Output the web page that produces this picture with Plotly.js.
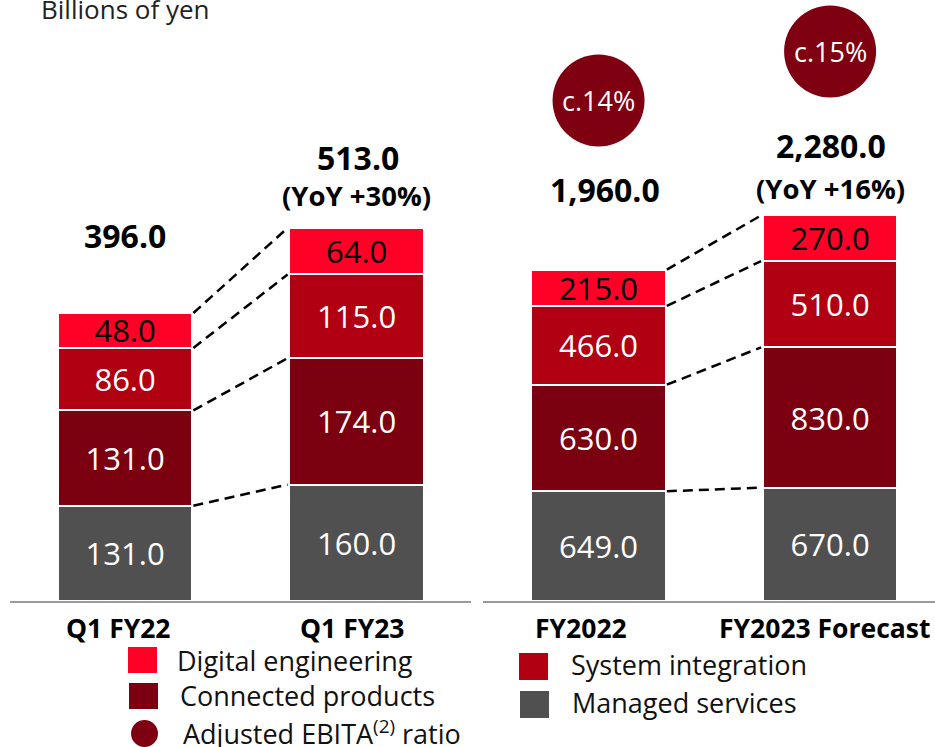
<!DOCTYPE html>
<html>
<head>
<meta charset="utf-8">
<script src="https://cdn.plot.ly/plotly-3.0.1.min.js"></script>
<style>html,body{margin:0;padding:0;background:#fff;}#chart{width:935px;height:747px;}</style>
</head>
<body>
<div id="chart"></div>
<script>
// ---- Data ----
const categoriesQ = ["Q1 FY22", "Q1 FY23"];
const categoriesY = ["FY2022", "FY2023 Forecast"];
const seriesNames = ["Managed services", "Connected products", "System integration", "Digital engineering"];
const managedQ = [131.0, 160.0];
const connectedQ = [131.0, 174.0];
const systemQ = [86.0, 115.0];
const digitalQ = [48.0, 64.0];
const managedY = [649.0, 670.0];
const connectedY = [630.0, 830.0];
const systemY = [466.0, 510.0];
const digitalY = [215.0, 270.0];
const totalsQ = [396.0, 513.0];
const totalsY = [1960.0, 2280.0];
const yoyQ = ["", "(YoY +30%)"];
const yoyY = ["", "(YoY +16%)"];
const ebitaRatio = ["c.14%", "c.15%"];
const unitLabel = "Billions of yen";
const legendEbita = "Adjusted EBITA<sup>(2)</sup> ratio";

// ---- Styles ----
const colors = ["#505050", "#7B0010", "#B00012", "#FF0027"];
const textColors = ["#ffffff", "#ffffff", "#ffffff", "#000000"];
const circleColor = "#7F0010";
const FONT = "Open Sans, Noto Sans, DejaVu Sans, sans-serif";
const W = 935, H = 747, PLOT_BOTTOM = 601;
const BAR_W = 0.58;

const fmt = v => v.toLocaleString("en-US", {minimumFractionDigits: 1, maximumFractionDigits: 1});

const seriesQ = [managedQ, connectedQ, systemQ, digitalQ];
const seriesY = [managedY, connectedY, systemY, digitalY];

const traces = [];
function addBars(cats, series, xa, ya) {
  series.forEach((vals, k) => {
    traces.push({
      type: "bar", x: cats, y: vals, name: seriesNames[k],
      xaxis: xa, yaxis: ya, width: BAR_W,
      marker: {color: colors[k], line: {color: "#ffffff", width: 2}},
      text: vals.map(fmt), textposition: "inside", insidetextanchor: "middle",
      constraintext: "none",
      textfont: {family: FONT, size: 31, color: textColors[k]},
      showlegend: false, hoverinfo: "x+y+name"
    });
  });
}
addBars(categoriesQ, seriesQ, "x", "y");
addBars(categoriesY, seriesY, "x2", "y2");

function cumul(series, i) {
  const out = []; let s = 0;
  series.forEach(v => { s += v[i]; out.push(s); });
  return out;
}

const shapes = [];
function addConnectors(series, xref, yref) {
  const a = cumul(series, 0), b = cumul(series, 1);
  a.forEach((v, k) => {
    shapes.push({type: "line", xref: xref, yref: yref,
      x0: BAR_W / 2 + 0.005, y0: v, x1: 1 - BAR_W / 2 - 0.008, y1: b[k],
      line: {color: "#000000", width: 2.5, dash: "10px,6px"}});
  });
}
addConnectors(seriesQ, "x", "y");
addConnectors(seriesY, "x2", "y2");

const annotations = [];
function addTotals(totals, yoy, xref, yref, offTotal, offYoy, xOff) {
  totals.forEach((t, i) => {
    annotations.push({xref: xref, yref: yref, x: i, y: t, yanchor: "middle", yshift: offTotal[i], xshift: xOff[i],
      text: fmt(t), showarrow: false, font: {family: FONT, size: 32, color: "#000", weight: 700}});
    if (yoy[i]) annotations.push({xref: xref, yref: yref, x: i, y: t, yanchor: "middle", yshift: offYoy[i],
      text: yoy[i], showarrow: false, font: {family: FONT, size: 27.5, color: "#000", weight: 700}});
  });
}
addTotals(totalsQ, yoyQ, "x", "y", [78, 70], [0, 32], [0, 1]);
addTotals(totalsY, yoyY, "x2", "y2", [80, 70], [0, 27], [6, 1]);

// category labels under each panel
function addCatLabels(cats, xref, yref, xOff) {
  cats.forEach((c, i) => {
    annotations.push({xref: xref, yref: yref, x: i, y: 0, yanchor: "middle", yshift: -27, xshift: xOff[i],
      text: c, showarrow: false, font: {family: FONT, size: 26.5, color: "#000", weight: 700}});
  });
}
addCatLabels(categoriesQ, "x", "y", [-6.5, -4.5]);
addCatLabels(categoriesY, "x2", "y2", [-18, -5]);

// EBITA ratio circles
const circleOffset = [169, 164];
const R = 46;
ebitaRatio.forEach((r, i) => {
  shapes.push({type: "circle", xref: "x2", yref: "y2", xsizemode: "pixel", ysizemode: "pixel",
    xanchor: i, yanchor: totalsY[i], x0: -R, x1: R, y0: circleOffset[i] - R, y1: circleOffset[i] + R,
    fillcolor: circleColor, line: {width: 0}});
  annotations.push({xref: "x2", yref: "y2", x: i, y: totalsY[i], yanchor: "middle", yshift: circleOffset[i],
    text: r, showarrow: false, font: {family: FONT, size: 27, color: "#ffffff"}});
});

const px = x => x / W;
const py = y => (PLOT_BOTTOM - y) / PLOT_BOTTOM;

// unit label
annotations.push({xref: "paper", yref: "paper", x: px(39), y: py(9), xanchor: "left", yanchor: "middle",
  text: unitLabel, showarrow: false, font: {family: FONT, size: 26, color: "#222"}});

// custom legend
const legendItems = [
  {label: seriesNames[3], color: colors[3], kind: "rect", box: [128, 647, 157, 673], tx: 175, ty: 660},
  {label: seriesNames[1], color: colors[1], kind: "rect", box: [129, 683, 158, 709], tx: 178, ty: 695},
  {label: legendEbita, color: circleColor, kind: "circle", box: [131, 720, 158, 747], tx: 181, ty: 732},
  {label: seriesNames[2], color: colors[2], kind: "rect", box: [519, 653, 548, 680], tx: 569, ty: 664},
  {label: seriesNames[0], color: colors[0], kind: "rect", box: [520, 691, 549, 718], tx: 570, ty: 702}
];
legendItems.forEach(it => {
  shapes.push({type: it.kind, xref: "paper", yref: "paper",
    x0: px(it.box[0]), x1: px(it.box[2]), y0: py(it.box[3]), y1: py(it.box[1]),
    fillcolor: it.color, line: {width: 0}});
  annotations.push({xref: "paper", yref: "paper", x: px(it.tx), y: py(it.ty), xanchor: "left", yanchor: "middle",
    text: it.label, showarrow: false, font: {family: FONT, size: 27, color: "#111"}});
});

const xCommon = {type: "category", showgrid: false, zeroline: false, showline: true,
  linecolor: "#9a9a9a", linewidth: 2, ticks: "", fixedrange: true, showticklabels: false};
const yCommon = {visible: false, showgrid: false, zeroline: false, fixedrange: true};

const layout = {
  width: W, height: H,
  margin: {l: 0, r: 0, t: 0, b: H - PLOT_BOTTOM, pad: 0},
  paper_bgcolor: "#ffffff", plot_bgcolor: "#ffffff",
  barmode: "stack", showlegend: false,
  font: {family: FONT},
  xaxis: Object.assign({}, xCommon, {domain: [px(10), px(471)], range: [-0.497, 1.494], anchor: "y"}),
  yaxis: Object.assign({}, yCommon, {range: [0, 826.4], anchor: "x"}),
  xaxis2: Object.assign({}, xCommon, {domain: [px(483), 1], range: [-0.499, 1.453], anchor: "y2"}),
  yaxis2: Object.assign({}, yCommon, {range: [0, 3554], anchor: "x2"}),
  shapes: shapes,
  annotations: annotations
};

Plotly.newPlot("chart", traces, layout, {displayModeBar: false, staticPlot: true});
</script>
</body>
</html>
